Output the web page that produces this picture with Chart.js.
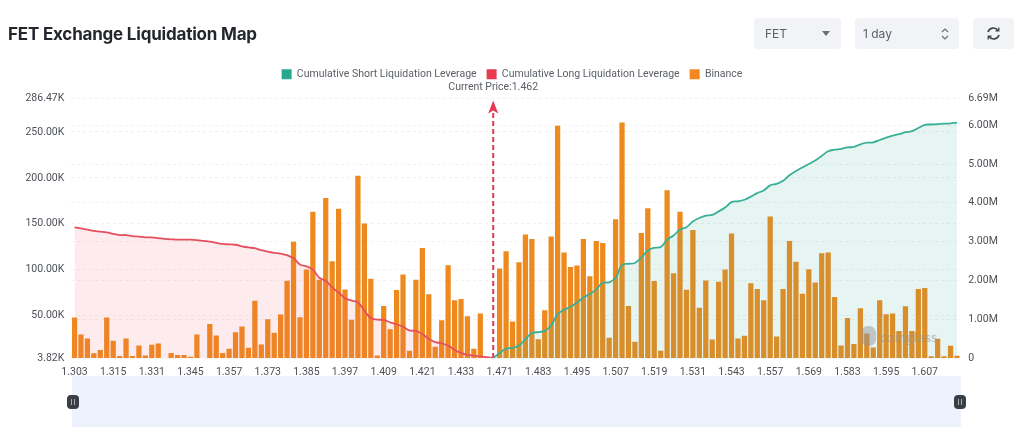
<!DOCTYPE html>
<html>
<head>
<meta charset="utf-8">
<title>FET Exchange Liquidation Map</title>
<script src="https://cdn.jsdelivr.net/npm/chart.js@4/dist/chart.umd.min.js"></script>
<style>
  html, body { margin: 0; padding: 0; background: #fff; }
  body { width: 1024px; height: 441px; position: relative; overflow: hidden; font-family: Inter, sans-serif; }
  #liqChart { position: absolute; left: 0; top: 0; }
  .title { position: absolute; left: 8px; top: 23px; font-size: 17px; line-height: 22px; font-weight: 700; color: #23262b; letter-spacing: -0.2px; }
  .btn { position: absolute; top: 18px; height: 31px; background: #f1f3f6; border-radius: 4px; color: #5c6168; font-size: 12px; line-height: 31px; }
  .btn span { position: absolute; left: 11px; }
  .btn svg { position: absolute; }
  .slider { position: absolute; left: 72px; top: 376px; width: 889px; height: 51px; background: #eef2fd; }
  .handle { position: absolute; top: 395px; width: 12px; height: 14px; border-radius: 4px; background: #3a3f47; }
  .handle::after { content: ""; position: absolute; left: 4px; top: 4px; width: 2px; height: 6px; border-left: 1px solid #aaa; border-right: 1px solid #aaa; }
  .mark { position: absolute; left: 880px; top: 328px; font: 600 13px "Open Sans", sans-serif; color: rgba(150,150,150,.55); }
  .logo { position: absolute; left: 861px; top: 326px; width: 15px; height: 20px; border-radius: 7px; background: rgba(150,150,150,.5); }
</style>
</head>
<body>
<canvas id="liqChart" width="1024" height="441"></canvas>
<div class="title">FET Exchange Liquidation Map</div>
<div class="btn" style="left:754px;width:87px"><span>FET</span>
  <svg style="left:68px;top:13px" width="8" height="5"><path d="M0 0h8L4 5z" fill="#6b7076"/></svg></div>
<div class="btn" style="left:855px;width:104px"><span style="left:8px">1 day</span>
  <svg style="left:86px;top:9px" width="8" height="14" fill="none" stroke="#6b7076" stroke-width="1.2"><path d="M1 5l3-3 3 3M1 9l3 3 3-3"/></svg></div>
<div class="btn" style="left:973px;width:41px">
  <svg style="left:13px;top:8px" width="15" height="15" viewBox="0 0 15 15" fill="none" stroke="#3f444a" stroke-width="1.6"><path d="M2 6a5.6 5.6 0 0 1 10-1.5M13 9a5.6 5.6 0 0 1-10 1.5"/><path d="M12.8 1.5v3.4H9.4M2.2 13.5v-3.4h3.4" stroke-width="1.3"/></svg></div>
<div class="slider"></div>
<div class="handle" style="left:67px"></div>
<div class="handle" style="left:954px"></div>
<div class="logo"></div>
<div class="mark">coinglass</div>

<script>
// every 6th bar carries a label
var tickLabels = ['1.303','1.315','1.331','1.345','1.357','1.373','1.385','1.397','1.409','1.421','1.433','1.471',
  '1.483','1.495','1.507','1.519','1.531','1.543','1.557','1.569','1.583','1.595','1.607'];
var leftTicks = [3.82, 50, 100, 150, 200, 250, 286.47];   // thousands
var rightTicks = [0, 1, 2, 3, 4, 5, 6, 6.69];             // millions
var currentPrice = '1.462';
var currentIndex = 65;

// binance bars, thousands
var binance = [47.5,29.1,24.8,8.5,12.1,47.5,22.2,5.6,24.8,5.6,17.2,6.3,17.9,19.3,null,8.9,6.7,6.7,4.9,29.1,
  null,40.6,28.0,8.9,13.5,31.6,37.7,14.6,65.9,18.3,45.7,30.9,50.8,87.6,130.2,47.9,99.8,162.7,88.7,177.8,
  108.9,165.9,78.2,45.0,202.0,150.0,89.7,6.3,60.1,34.9,77.5,94.4,11.4,88.7,123.3,72.8,15.7,44.6,104.5,66.3,
  67.7,48.9,13.5,51.8,null,null,100.9,119.7,43.2,107.8,138.1,133.0,24.0,55.4,135.9,256.5,118.3,102.7,104.2,133.0,
  92.6,130.9,128.7,25.5,154.7,260.1,60.1,21.1,139.6,166.6,87.2,11.4,186.1,95.9,162.7,77.8,142.8,58.3,87.9,23.7,
  86.5,99.8,139.2,24.8,27.6,85.0,78.5,66.3,157.6,26.9,78.5,130.9,108.2,73.5,100.2,85.8,117.5,118.3,69.9,17.2,
  47.1,18.6,57.6,30.2,15.0,66.3,51.1,51.8,33.0,59.8,33.0,78.5,79.6,5.3,24.4,5.3,16.8,6.0];

// cumulative long, millions, index 0..65
var longCum = [3.37,3.34,3.31,3.28,3.26,3.24,3.20,3.17,3.17,3.14,3.13,3.11,3.11,3.09,3.07,3.06,3.05,3.05,3.05,3.04,
  3.02,3.00,2.97,2.94,2.93,2.92,2.88,2.85,2.83,2.78,2.74,2.71,2.69,2.65,2.57,2.41,2.36,2.28,2.07,1.99,
  1.82,1.69,1.54,1.48,1.43,1.22,1.03,0.99,0.98,0.92,0.87,0.81,0.71,0.70,0.62,0.49,0.41,0.38,0.32,0.21,
  0.13,0.08,0.06,0.04,0.02,0];

// cumulative short, millions, index 65..137
var shortCum = [0,0.13,0.24,0.26,0.32,0.49,0.64,0.67,0.70,0.84,1.13,1.24,1.32,1.43,1.56,1.65,1.77,1.94,1.95,2.07,
  2.40,2.43,2.45,2.59,2.77,2.84,2.86,3.05,3.16,3.31,3.37,3.52,3.61,3.67,3.69,3.78,3.88,4.02,4.04,4.08,
  4.16,4.25,4.32,4.45,4.49,4.57,4.71,4.82,4.91,5.00,5.09,5.21,5.33,5.37,5.39,5.43,5.44,5.51,5.55,5.56,
  5.62,5.68,5.73,5.77,5.82,5.85,5.93,6.01,6.02,6.03,6.04,6.05,6.07];

var categories = [];
for (var i = 0; i < binance.length; i++) {
  categories.push(i % 6 == 0 ? tickLabels[i / 6] : '');
}

// pad the two cumulative lines so they line up with the bars
var longData = longCum.slice();
while (longData.length < binance.length) longData.push(null);
var shortData = [];
while (shortData.length < currentIndex) shortData.push(null);
shortData = shortData.concat(shortCum);

// extra room under the legend for the current price text
var legendGap = {
  id: 'legendGap',
  beforeInit: function(chart) {
    var fit = chart.legend.fit;
    chart.legend.fit = function() {
      fit.call(this);
      this.height += 9;
    };
  }
};

// dashed arrow + current price text
var priceMarker = {
  id: 'priceMarker',
  afterDatasetsDraw: function(chart) {
    var c = chart.ctx;
    var x = chart.scales.x.getPixelForValue(currentIndex);
    var bottom = chart.chartArea.bottom;
    var top = chart.chartArea.top;
    c.save();
    c.strokeStyle = '#e23a55';
    c.fillStyle = '#e23a55';
    c.lineWidth = 2;
    c.setLineDash([5, 3]);
    c.beginPath();
    c.moveTo(x, bottom);
    c.lineTo(x, top + 13);
    c.stroke();
    c.setLineDash([]);
    c.beginPath();
    c.moveTo(x, top + 2);
    c.lineTo(x + 5, top + 15);
    c.lineTo(x, top + 12);
    c.lineTo(x - 5, top + 15);
    c.closePath();
    c.fill();
    c.fillStyle = '#5a5f66';
    c.font = '10.5px Roboto, sans-serif';
    c.textAlign = 'center';
    c.textBaseline = 'middle';
    c.fillText('Current Price:' + currentPrice, x, 87);
    c.restore();
  }
};

new Chart(document.getElementById('liqChart'), {
  type: 'bar',
  data: {
    labels: categories,
    datasets: [
      {
        type: 'line',
        label: 'Cumulative Short Liquidation Leverage',
        data: shortData,
        yAxisID: 'y2',
        order: 1,
        borderColor: '#3aaf97',
        backgroundColor: 'rgba(54,173,150,0.12)',
        borderWidth: 1.8,
        pointRadius: 0,
        tension: 0.4,
        fill: 'origin'
      },
      {
        type: 'line',
        label: 'Cumulative Long Liquidation Leverage',
        data: longData,
        yAxisID: 'y2',
        order: 2,
        borderColor: '#e5505f',
        backgroundColor: 'rgba(240,90,110,0.12)',
        borderWidth: 1.8,
        pointRadius: 0,
        tension: 0.4,
        fill: 'origin'
      },
      {
        label: 'Binance',
        data: binance,
        yAxisID: 'y',
        order: 3,
        backgroundColor: '#ee8a1d',
        barThickness: 4.6
      }
    ]
  },
  options: {
    responsive: false,
    animation: false,
    layout: { padding: { top: 59, left: 0, right: 0, bottom: 65 } },
    plugins: {
      tooltip: { enabled: false },
      legend: {
        position: 'top',
        labels: {
          boxWidth: 10,
          boxHeight: 10,
          padding: 10,
          color: '#5a5f66',
          font: { size: 10.5, family: 'Roboto, sans-serif' },
          generateLabels: function(chart) {
            return chart.data.datasets.map(function(ds, idx) {
              var colors = ['#2aa88f', '#ea3a4f', '#f5871f'];
              return { text: ds.label, fillStyle: colors[idx], strokeStyle: colors[idx], lineWidth: 0, datasetIndex: idx, fontColor: '#5a5f66' };
            });
          }
        }
      }
    },
    scales: {
      x: {
        offset: true,
        grid: { display: false },
        border: { display: false },
        afterFit: function(s) { s.height = 18; },
        ticks: { autoSkip: false, maxRotation: 0, padding: 0, color: '#4c5056', font: { size: 10.5, family: 'Roboto' } }
      },
      y: {
        position: 'left',
        min: 3.82,
        max: 286.47,
        border: { display: false, dash: [3, 3] },
        grid: { color: '#f1f1f1', drawTicks: false },
        afterFit: function(s) { s.width = 71.3; },
        afterBuildTicks: function(s) { s.ticks = leftTicks.map(function(v) { return { value: v }; }); },
        ticks: {
          padding: 7,
          color: '#4c5056',
          font: { size: 10.5, family: 'Roboto' },
          callback: function(v) { return v.toFixed(2) + 'K'; }
        }
      },
      y2: {
        position: 'right',
        min: 0,
        max: 6.69,
        border: { display: false, dash: [3, 3] },
        grid: { color: '#f1f1f1', drawTicks: false },
        afterFit: function(s) { s.width = 63.8; },
        afterBuildTicks: function(s) { s.ticks = rightTicks.map(function(v) { return { value: v }; }); },
        ticks: {
          padding: 8,
          color: '#4c5056',
          font: { size: 10.5, family: 'Roboto' },
          callback: function(v) { return v == 0 ? '0' : v.toFixed(2) + 'M'; }
        }
      }
    }
  },
  plugins: [legendGap, priceMarker]
});
</script>
</body>
</html>
